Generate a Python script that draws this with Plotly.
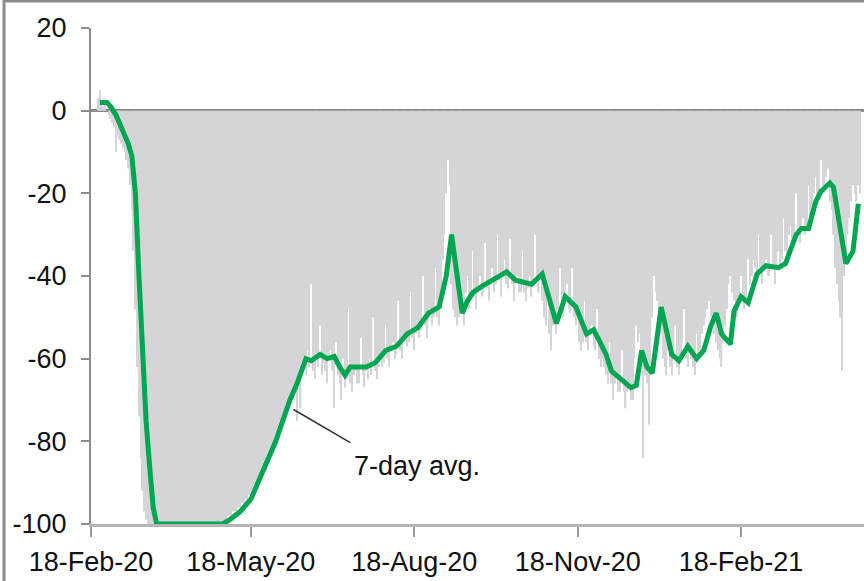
import datetime as dt
import pandas as pd
import plotly.graph_objects as go

START = dt.date(2020, 2, 18)

# 7-day average (green line): day offset from 18-Feb-20, value
avg_days = [5, 9, 11, 14, 18, 21, 23, 25, 27, 29, 31, 33, 35, 37, 74, 78, 84, 90, 95, 100,
            104, 108, 112, 116, 119, 121, 124, 129, 133, 137, 140, 143, 146, 150, 155, 160,
            166, 172, 178, 184, 190, 196, 200, 203, 206, 209, 212, 215, 220, 226, 231, 234,
            239, 244, 248, 254, 258, 262, 267, 273, 279, 283, 286, 290, 293, 299, 304, 307,
            310, 313, 316, 321, 324, 327, 331, 336, 341, 345, 349, 352, 355, 360, 362, 366,
            370, 375, 380, 387, 391, 397, 400, 404, 408, 411, 416, 418, 425, 429, 432]
avg_vals = [2, 2, 1, -1, -5, -8, -11, -20, -40, -60, -75, -86, -96, -100, -100, -99, -97, -94, -89, -84,
            -80, -75, -70, -66, -62, -60, -60.5, -59, -60, -59.5, -62, -64, -62, -62, -62, -61,
            -58, -57, -54, -52.5, -49, -47.5, -40, -30, -40, -49, -46, -44, -42.5, -41, -39.5, -39,
            -41, -41.5, -42, -39.5, -46, -51.5, -45, -47.5, -54, -53, -55.5, -59, -63, -65, -67, -66.5,
            -58, -62, -63.5, -47.5, -53, -59, -60.5, -57, -60, -58, -52, -49, -54, -56.5, -48.5, -45,
            -46.5, -39.5, -37.5, -38, -37, -30, -28.5, -28.5, -22, -19.5, -17.5, -18.5, -37, -34, -22.5]

# Daily values (gray bars), from 22-Feb-20 (day 4) to 26-Apr-21 (day 433)
daily_first_day = 4
daily_vals = [
    3, 5, 2, 1, 2, 0, -1,
    -2, -3, -4, -10, -6, -7, -8,
    -9, -10, -12, -14, -18, -24, -34,
    -48, -62, -74, -84, -92, -97, -99,
    -100, -100, -100, -100, -100, -100, -100,
    -100, -100, -100, -100, -100, -100, -100,
    -100, -100, -100, -100, -100, -100, -100,
    -100, -100, -100, -100, -100, -100, -100,
    -100, -100, -100, -100, -100, -100, -100,
    -100, -100, -100, -100, -100, -100, -100,
    -100, -99, -99, -98, -98, -98, -97,
    -97, -97, -96, -96, -95, -95, -94,
    -94, -93, -93, -92, -91, -90, -89,
    -88, -87, -86, -85, -84, -83, -82,
    -81, -80, -79, -78, -77, -76, -74,
    -73, -72, -71, -70, -68, -67, -66,
    -75, -64, -72, -61, -62, -64, -58,
    -62, -42, -63, -65, -60, -62, -52,
    -64, -61, -63, -66, -60, -58, -63,
    -72, -56, -64, -66, -70, -60, -67,
    -65, -48, -66, -68, -64, -63, -66,
    -66, -55, -64, -67, -63, -65, -60,
    -64, -50, -63, -65, -62, -60, -62,
    -61, -52, -60, -62, -58, -56, -60,
    -59, -46, -58, -60, -56, -55, -57,
    -56, -44, -55, -58, -54, -52, -55,
    -53, -40, -52, -55, -51, -48, -52,
    -50, -38, -50, -52, -44, -36, -30,
    -20, -12, -18, -42, -48, -50, -52,
    -50, -49, -47, -52, -44, -40, -48,
    -46, -34, -45, -48, -43, -40, -45,
    -44, -32, -43, -46, -42, -38, -44,
    -42, -30, -41, -45, -40, -36, -42,
    -43, -31, -42, -46, -42, -40, -44,
    -44, -34, -44, -46, -43, -40, -45,
    -42, -30, -41, -44, -40, -46, -50,
    -52, -44, -54, -58, -52, -50, -54,
    -48, -38, -46, -50, -44, -42, -48,
    -49, -38, -50, -52, -48, -56, -58,
    -56, -46, -56, -58, -54, -52, -57,
    -58, -48, -60, -62, -60, -62, -64,
    -66, -56, -66, -70, -66, -64, -68,
    -68, -58, -68, -72, -68, -66, -70,
    -70, -60, -52, -56, -54, -62, -84,
    -64, -66, -76, -62, -50, -40, -44,
    -46, -48, -54, -60, -62, -64, -58,
    -62, -64, -60, -52, -62, -64, -60,
    -56, -48, -60, -62, -58, -60, -62,
    -64, -54, -60, -58, -54, -52, -50,
    -48, -46, -50, -52, -54, -56, -58,
    -60, -62, -56, -52, -48, -42, -40,
    -44, -46, -48, -50, -46, -40, -44,
    -48, -46, -36, -42, -40, -36, -38,
    -40, -30, -38, -42, -38, -36, -40,
    -40, -30, -38, -42, -38, -34, -38,
    -36, -26, -34, -36, -30, -28, -32,
    -30, -20, -30, -32, -28, -26, -30,
    -28, -18, -26, -24, -20, -16, -22,
    -20, -12, -18, -20, -16, -14, -22,
    -24, -30, -38, -42, -46, -50, -63,
    -40, -34, -30, -26, -22, -18, -20,
    -22, -18, -20,
]

tick_dates = ["2020-02-18", "2020-05-18", "2020-08-18", "2020-11-18", "2021-02-18"]
tick_labels = ["18-Feb-20", "18-May-20", "18-Aug-20", "18-Nov-20", "18-Feb-21"]
y_ticks = [-100, -80, -60, -40, -20, 0, 20]
y_tick_labels = ["-100", "-80", "-60", "-40", "-20", "0", "20"]

avg_dates = [START + dt.timedelta(days=d) for d in avg_days]
daily_dates = pd.date_range(START + dt.timedelta(days=daily_first_day), periods=len(daily_vals), freq="D")

FONT = "Liberation Sans, Arial, sans-serif"
GREEN = "#00a651"

fig = go.Figure()
fig.add_trace(go.Bar(
    x=daily_dates, y=daily_vals, marker=dict(color="#d5d5d7", line=dict(width=0)),
    showlegend=False, hoverinfo="skip",
))
fig.add_trace(go.Scatter(
    x=avg_dates, y=avg_vals, mode="lines", line=dict(color=GREEN, width=5),
    cliponaxis=False, showlegend=False,
))

x_end = pd.Timestamp("2020-02-18") + pd.Timedelta(days=435.2)

fig.update_layout(
    width=864, height=581,
    margin=dict(l=91, r=0, t=28, b=57),
    paper_bgcolor="white", plot_bgcolor="white",
    bargap=0.25,
    font=dict(family=FONT, size=27, color="#111111"),
    xaxis=dict(
        type="date", range=[pd.Timestamp("2020-02-18"), x_end],
        tickvals=tick_dates, ticktext=tick_labels,
        showline=True, linecolor="#b5b5b5", linewidth=3,
        ticks="outside", ticklen=10, tickwidth=2, tickcolor="#9a9a9a",
        showgrid=False, zeroline=False, ticklabelstandoff=2,
        tickfont=dict(family=FONT, size=27, color="#111111"),
    ),
    yaxis=dict(
        range=[-100, 20], tickvals=y_ticks, ticktext=y_tick_labels,
        showline=True, linecolor="#8c8c8c", linewidth=2,
        ticks="outside", ticklen=8, tickwidth=2, tickcolor="#8c8c8c",
        showgrid=False, zeroline=True, zerolinecolor="#8a8a8a", zerolinewidth=2.5,
        ticklabelstandoff=9,
        tickfont=dict(family=FONT, size=27, color="#111111"),
    ),
    shapes=[
        dict(type="rect", xref="paper", yref="paper",
             x0=-0.1125, x1=1.05, y0=-0.3, y1=1.0544,
             line=dict(color="#8c8c8c", width=3), layer="above"),
        dict(type="line", xref="x", yref="y",
             x0="2020-06-11", y0=-72.3, x1="2020-07-13", y1=-80.3,
             line=dict(color="#333333", width=1.5)),
    ],
    annotations=[
        dict(x="2020-07-14", y=-86, xref="x", yref="y", text="7-day avg.",
             showarrow=False, xanchor="left", yanchor="middle",
             font=dict(family=FONT, size=27, color="#111111")),
    ],
)

fig.write_html(
    "out.html",
    config={"displayModeBar": False},
    post_script="document.body.style.margin='0';document.body.style.overflow='hidden';",
)
